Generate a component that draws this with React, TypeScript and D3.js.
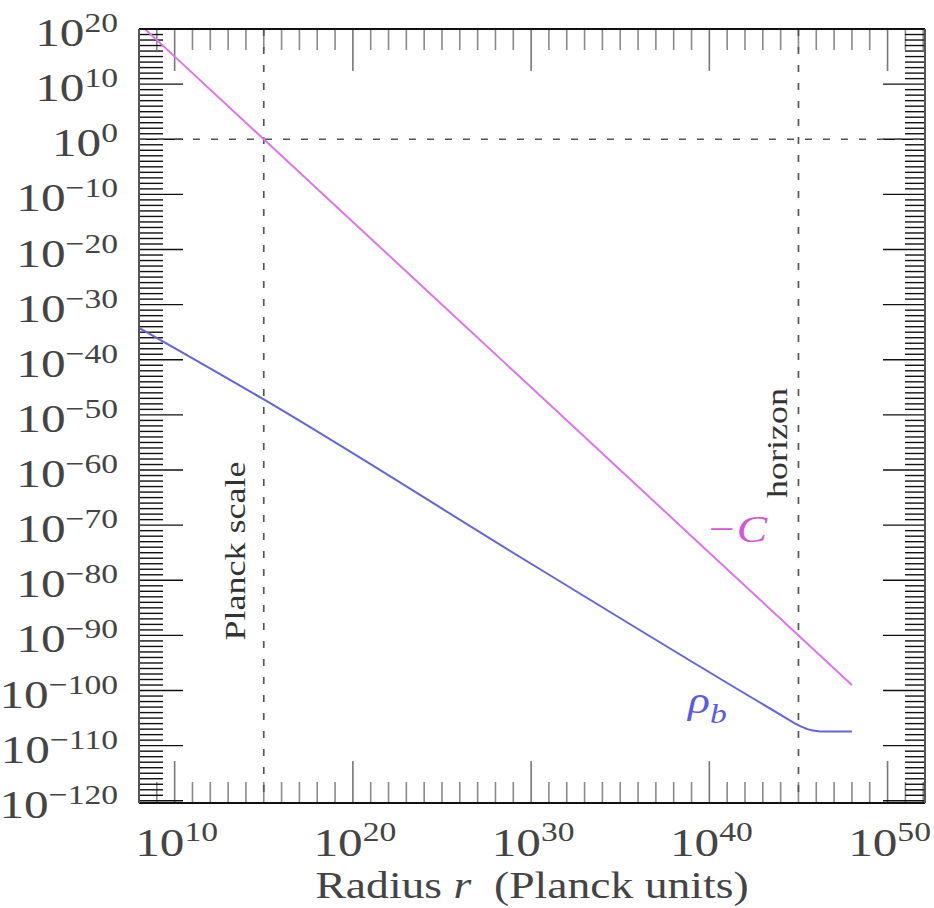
import React from "react";
import * as d3 from "d3";

// ---- data ----
const radiusC = [1e8, 1e15, 1e30, 1e48];
const negC = [1e21, 1e0, 1e-45, 1e-99];

const radiusRho = [1e8, 1e15, 1e30, 1e44, 1e45, 10 ** 45.5, 1e46, 10 ** 46.5, 1e48];
const rhoB = [10 ** -34.2, 10 ** -47.2, 1e-77, 10 ** -104.4, 10 ** -106.3, 1e-107, 10 ** -107.35, 10 ** -107.45, 10 ** -107.45];

const planckScale = 1e15;
const horizon = 1e45;
const unityLevel = 1e0;

const xTickExps = [10, 20, 30, 40, 50];
const yTickExps = [20, 10, 0, -10, -20, -30, -40, -50, -60, -70, -80, -90, -100, -110, -120];

// ---- layout ----
const W = 934;
const H = 908;
const L = 139, R = 925, T = 29, B = 803;
const SX = 1.2;
const FONT = "'Liberation Serif', 'Times New Roman', serif";

const x = d3.scaleLog().domain([1e8, 10 ** 52.1]).range([L, R]);
const y = d3.scaleLog().domain([10 ** -120.4, 1e20]).range([B, T]);

const fmtExp = (e: number) => (e < 0 ? "\u2212" + Math.abs(e) : String(e));

export default function App() {
  const lineGen = d3
    .line<[number, number]>()
    .x((d) => x(d[0]))
    .y((d) => y(d[1]))
    .curve(d3.curveMonotoneX);

  const cPath = lineGen(radiusC.map((r, i) => [r, negC[i]] as [number, number])) || "";
  const rhoPath = lineGen(radiusRho.map((r, i) => [r, rhoB[i]] as [number, number])) || "";

  const xMinor = d3.range(9, 53).filter((e) => e % 10 !== 0).map((e) => 10 ** e);
  const xMajor = xTickExps.map((e) => 10 ** e);
  const yMinor = d3.range(-120, 21).filter((e) => e % 10 !== 0).map((e) => 10 ** e);
  const yMajor = yTickExps.map((e) => 10 ** e);

  const minorLen = 21;
  const majorLen = 42;

  return (
    <svg
      width={W}
      height={H}
      style={{ position: "absolute", left: 0, top: 0, background: "#fff" }}
      fontFamily={FONT}
    >
      <defs>
        <clipPath id="plot">
          <rect x={L} y={T} width={R - L} height={B - T} />
        </clipPath>
      </defs>
      <rect x={0} y={0} width={W} height={H} fill="#fff" />

      {/* x ticks top & bottom */}
      {xMinor.map((v, i) => (
        <g key={"xm" + i} stroke="#8a8a8a" strokeWidth={1.6}>
          <line x1={x(v)} x2={x(v)} y1={B} y2={B - minorLen} />
          <line x1={x(v)} x2={x(v)} y1={T} y2={T + minorLen} />
        </g>
      ))}
      {xMajor.map((v, i) => (
        <g key={"xM" + i} stroke="#777" strokeWidth={1.6}>
          <line x1={x(v)} x2={x(v)} y1={B} y2={B - majorLen} />
          <line x1={x(v)} x2={x(v)} y1={T} y2={T + majorLen} />
        </g>
      ))}

      {/* y ticks left & right */}
      {yMinor.map((v, i) => (
        <g key={"ym" + i} stroke="#111" strokeWidth={1.4}>
          <line x1={L} x2={L + 24} y1={y(v)} y2={y(v)} />
          <line x1={R} x2={R - 20} y1={y(v)} y2={y(v)} />
        </g>
      ))}
      {yMajor.map((v, i) => (
        <g key={"yM" + i} stroke="#111" strokeWidth={1.4}>
          <line x1={L} x2={L + 44} y1={y(v)} y2={y(v)} />
          <line x1={R} x2={R - majorLen} y1={y(v)} y2={y(v)} />
        </g>
      ))}

      {/* reference dashed lines */}
      <g stroke="#555" strokeWidth={1.7} strokeDasharray="7 11" fill="none">
        <line x1={x(planckScale)} x2={x(planckScale)} y1={T} y2={B} />
        <line x1={x(horizon)} x2={x(horizon)} y1={T} y2={B} />
        <line x1={L} x2={R} y1={y(unityLevel)} y2={y(unityLevel)} />
      </g>

      {/* curves */}
      <g clipPath="url(#plot)" fill="none" strokeWidth={2}>
        <path d={cPath} stroke="#e074ea" />
        <path d={rhoPath} stroke="#6464dc" />
      </g>

      {/* frame */}
      <g stroke="#111" strokeWidth={2}>
        <line x1={L} x2={R} y1={T} y2={T} />
        <line x1={L} x2={R} y1={B} y2={B} />
        <line x1={L} x2={L} y1={T} y2={B} stroke="#555" />
        <line x1={R} x2={R} y1={T} y2={B} stroke="#555" />
      </g>

      {/* y tick labels */}
      {yTickExps.map((e, i) => (
        <text
          key={"yl" + i}
          transform={`translate(118,${y(10 ** e) + 17}) scale(${SX},1)`}
          textAnchor="end"
          fontSize={41}
          fill="#444"
        >
          10
          <tspan dy={-14} fontSize={28}>
            {fmtExp(e)}
          </tspan>
        </text>
      ))}

      {/* x tick labels */}
      {xTickExps.map((e, i) => (
        <text
          key={"xl" + i}
          transform={`translate(${x(10 ** e) + 2},856) scale(${SX},1)`}
          textAnchor="middle"
          fontSize={41}
          fill="#444"
        >
          10
          <tspan dy={-15} fontSize={28}>
            {fmtExp(e)}
          </tspan>
        </text>
      ))}

      {/* axis title */}
      <text
        transform={`translate(${(L + R) / 2},898) scale(${SX},1)`}
        textAnchor="middle"
        fontSize={38}
        fill="#444"
      >
        Radius <tspan fontStyle="italic">r</tspan>
        {"\u00a0\u00a0(Planck units)"}
      </text>

      {/* vertical labels */}
      <text
        transform={`translate(245,551) rotate(-90) scale(${SX},1)`}
        textAnchor="middle"
        fontSize={30}
        fill="#333"
      >
        Planck scale
      </text>
      <text
        transform={`translate(787,443) rotate(-90) scale(${SX},1)`}
        textAnchor="middle"
        fontSize={30}
        fill="#333"
      >
        horizon
      </text>

      {/* series labels */}
      <text
        transform={`translate(706,542) scale(${SX},1)`}
        fontSize={38}
        fontStyle="italic"
        fill="#d456d8"
      >
        {"\u2212C"}
      </text>
      <text
        transform={`translate(688,713) scale(${SX},1)`}
        fontSize={38}
        fontStyle="italic"
        fill="#5a5ae6"
      >
        ρ
        <tspan dy={10} fontSize={28}>
          b
        </tspan>
      </text>
    </svg>
  );
}
